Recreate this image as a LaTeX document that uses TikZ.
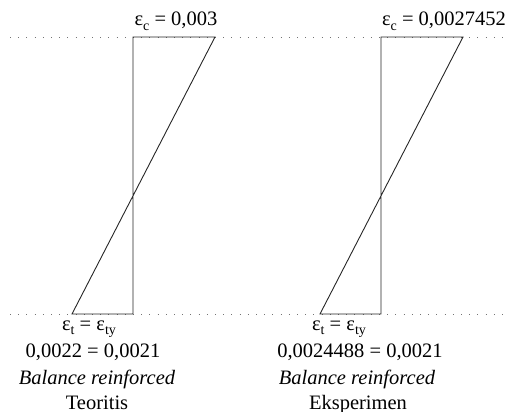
\documentclass[tikz,border=0pt]{standalone}
\usepackage{fontspec}
\setmainfont{Liberation Serif}
\newcommand{\sbs}[1]{\raisebox{-0.22em}{\fontsize{14}{14}\selectfont #1}}
\begin{document}
\begin{tikzpicture}[x=1pt,y=-1pt,
  lbl/.style={anchor=base,inner sep=0pt,font=\fontsize{20.5}{24}\selectfont},
  guide/.style={draw=black!55,line width=0.8pt,dash pattern=on 0.8pt off 7.4pt},
  diag/.style={draw=black!85,line width=0.9pt,line join=miter}]
\useasboundingbox (0,0) rectangle (509,412);
% dotted guide lines
\draw[guide] (10,37) -- (506,37);
\draw[guide] (10,314) -- (506,314);
% left diagram
\draw[diag] (133,314) -- (133,37) -- (215,37) -- (72,314) -- cycle;
% right diagram
\draw[diag] (381,314) -- (381,37) -- (463,37) -- (320,314) -- cycle;
% labels left
\node[lbl] (ecl) at (176,26) {ε\sbs{c} = 0,003};
\node[lbl] (etl) at (89,330) {ε\sbs{t} = ε\sbs{ty}};
\node[lbl] (vl) at (93,357) {0,0022 = 0,0021};
\node[lbl] (bl) at (97,384) {\itshape Balance reinforced};
\node[lbl] (tl) at (97,409) {Teoritis};
% labels right
\node[lbl] (ecr) at (444,26) {ε\sbs{c} = 0,0027452};
\node[lbl] (etr) at (339,330) {ε\sbs{t} = ε\sbs{ty}};
\node[lbl] (vr) at (360,357) {0,0024488 = 0,0021};
\node[lbl] (br) at (357,384) {\itshape Balance reinforced};
\node[lbl] (tr) at (358,409) {Eksperimen};
\end{tikzpicture}
\end{document}
